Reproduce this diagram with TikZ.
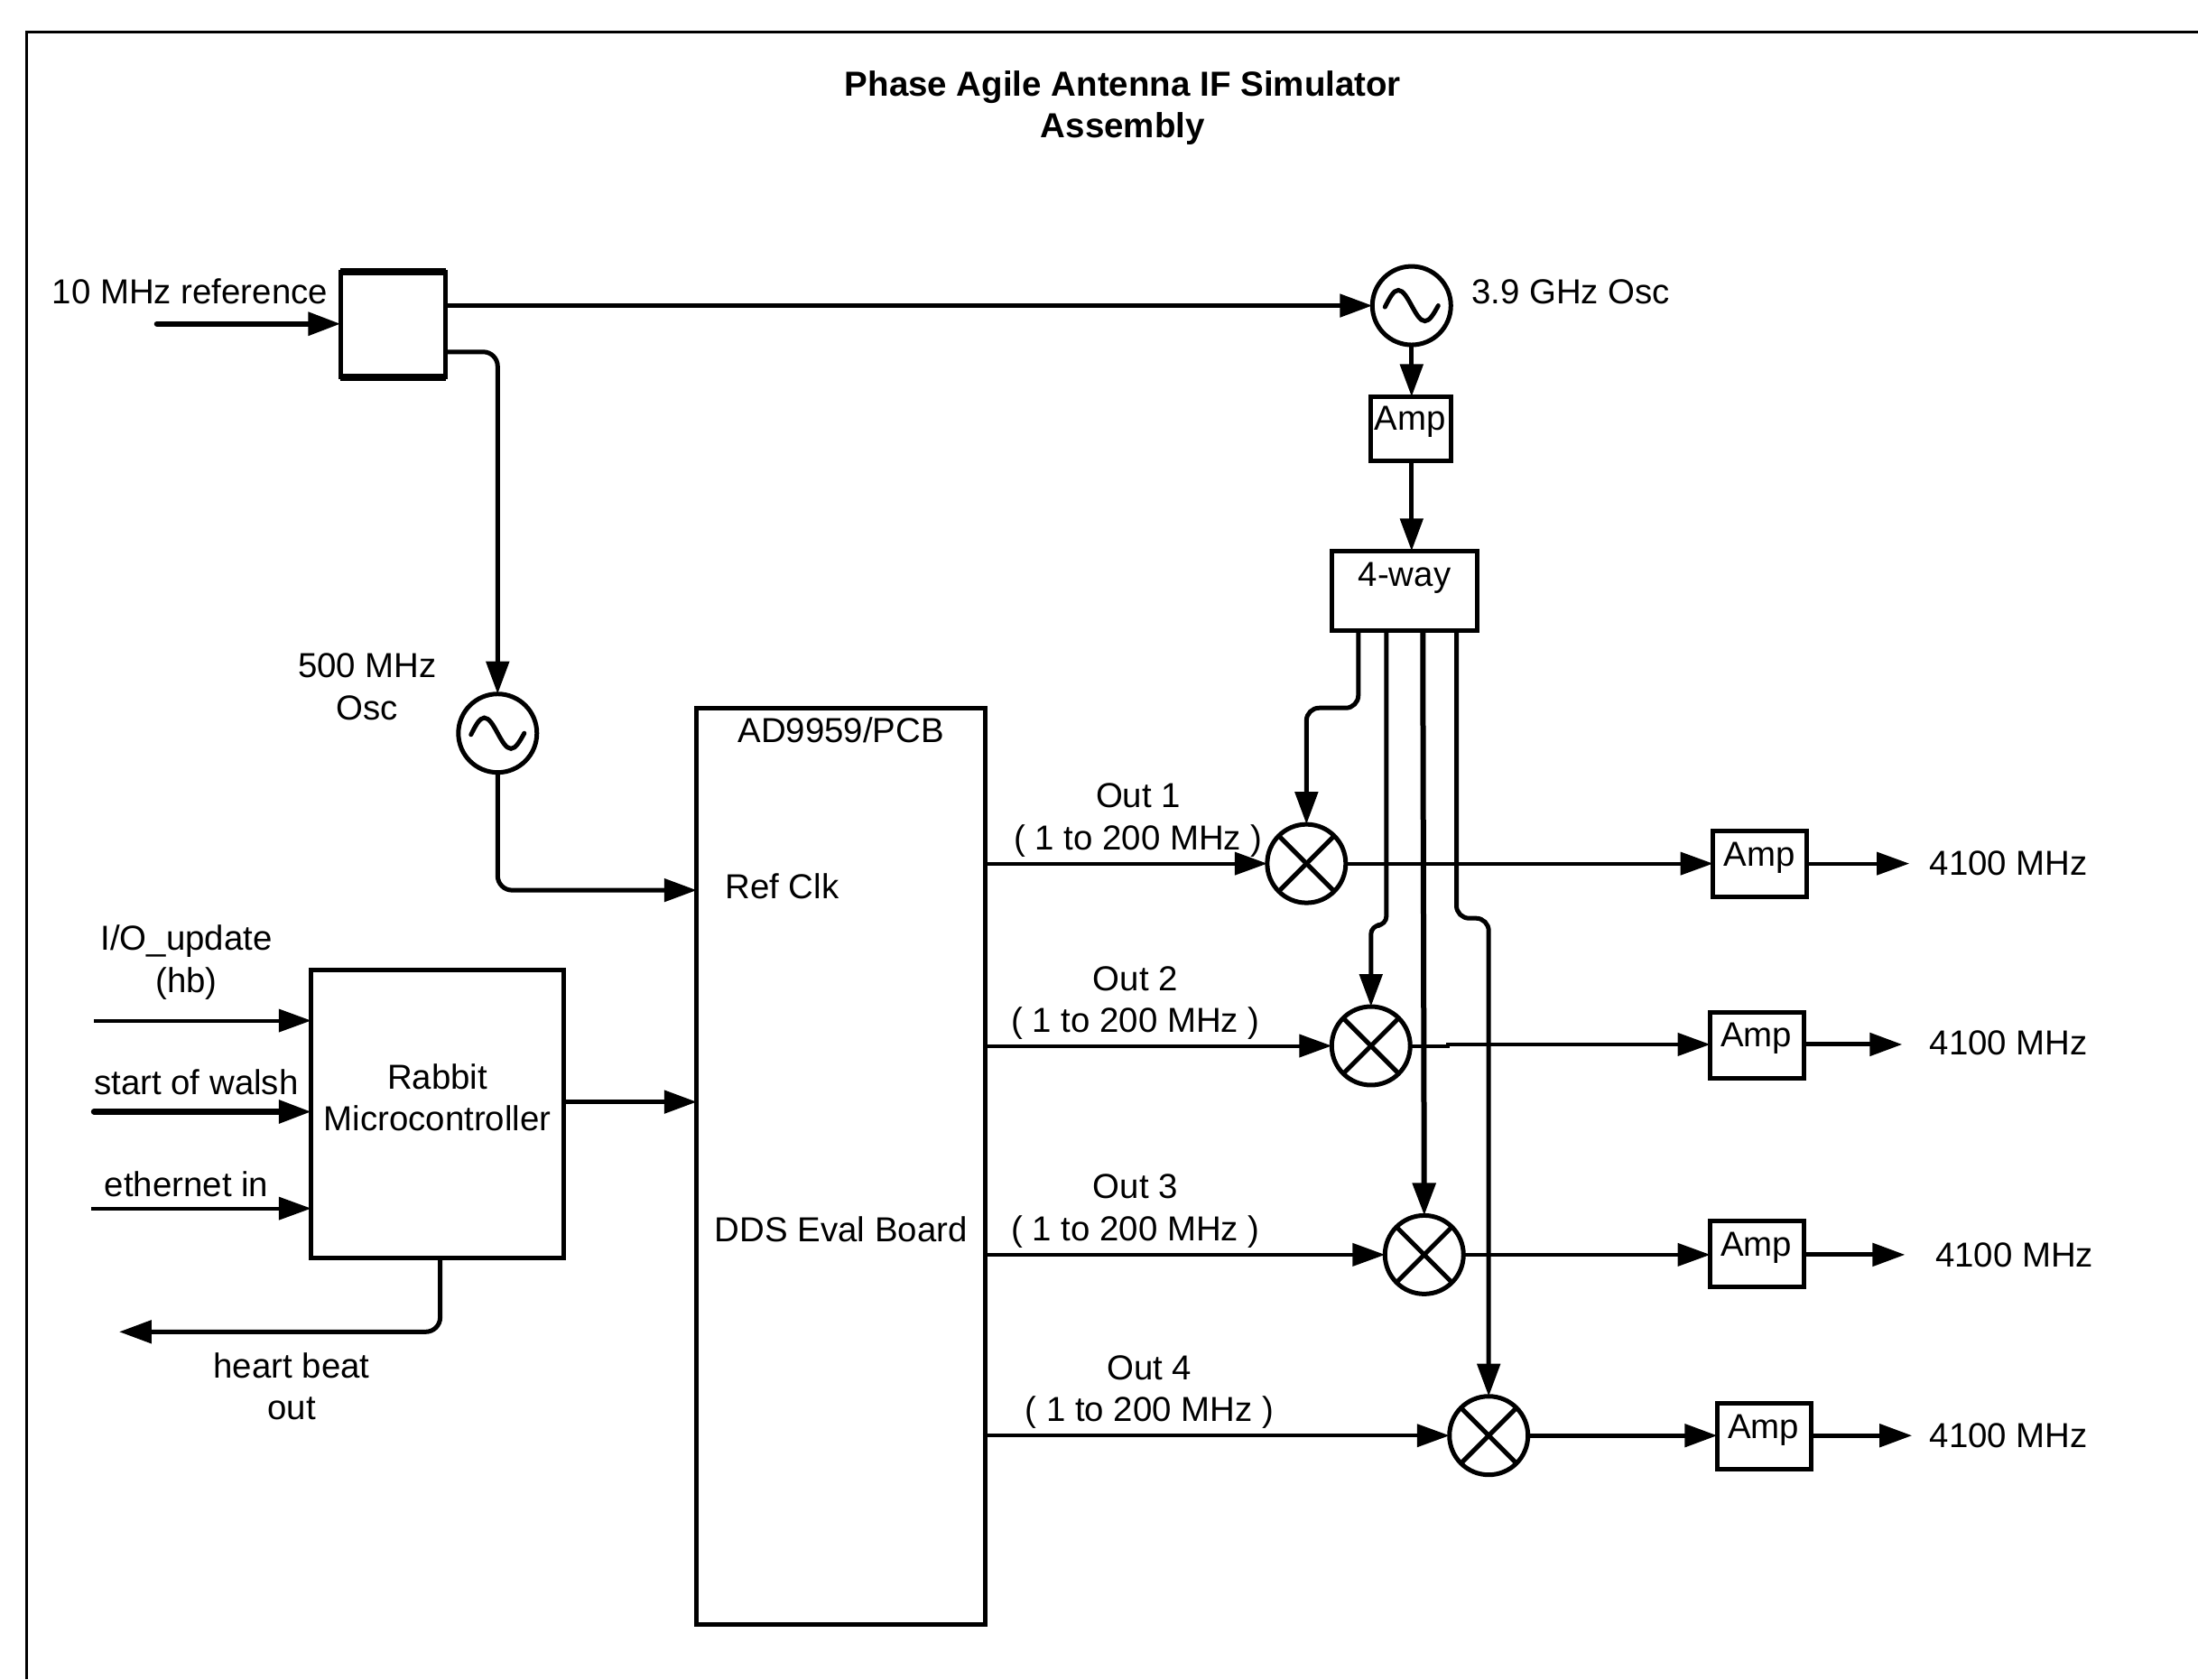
\documentclass[tikz,border=0pt]{standalone}
\usepackage{fontspec}
\setmainfont{Liberation Sans}
\usetikzlibrary{arrows.meta,calc}
\def\U{0.7765pt}
\tikzset{
  x=0.7765pt,y=-0.7765pt,
  lw/.style={line width=2.5pt},
  sz/.style 2 args={minimum width=#1*\U,minimum height=#2*\U},
  blk/.style={draw,rectangle,lw,inner sep=0pt,outer sep=0pt,line join=miter},
  osc/.style={draw,circle,lw,inner sep=0pt,outer sep=0pt,minimum size=56*\U},
  mixer/.style={osc,path picture={
    \draw[lw] (path picture bounding box.north west)--(path picture bounding box.south east);
    \draw[lw] (path picture bounding box.north east)--(path picture bounding box.south west);}},
  txt/.style={inner sep=0pt,outer sep=0pt,align=center,font=\fontsize{19.2}{23.2}\selectfont},
  conn/.style={lw,-{Triangle[length=18pt,width=12.5pt]}},
  connthin/.style={line width=2pt,-{Triangle[length=18pt,width=12.5pt]}},
  connthick/.style={line width=3.2pt,line cap=round,-{Triangle[length=18pt,width=12.5pt]}},
  roundbend/.style={rounded corners=8pt},
}
\newcommand{\sinewave}[1]{\draw[lw,line cap=round] (#1) ++(-19,1) sin ++(9.5,-12) cos ++(9.5,11) sin ++(9.5,11) cos ++(9.5,-11);}
\begin{document}
\begin{tikzpicture}
\useasboundingbox (0,0) rectangle (1568,1198);
% frame
\draw[line width=1.5pt] (19,1198) -- (19,23) -- (1568,23);
% title
\node[txt,font=\fontsize{19.25}{23.2}\selectfont\bfseries] (title) at (801,77) {Phase Agile Antenna IF Simulator\\Assembly};
% blocks
\node[blk,sz={75}{75}] (ref) at (280.5,231.5) {};
\draw[line width=4.2pt] (ref.north west) -- (ref.north east) (ref.south west) -- (ref.south east);
\node[osc] (oscA) at (1007,218) {};
\node[osc] (oscB) at (355,523) {};
\sinewave{oscA}
\sinewave{oscB}
\node[blk,sz={57}{46}] (ampZ) at (1006.5,306) {};
\node[blk,sz={104}{57}] (four) at (1002,421.5) {};
\node[blk,sz={206}{654}] (dds) at (600,832) {};
\node[blk,sz={180}{205}] (rabbit) at (312,794.5) {};
\node[mixer] (mixA) at (932,616) {};
\node[mixer] (mixB) at (978,746) {};
\node[mixer] (mixC) at (1016,895) {};
\node[mixer] (mixD) at (1062,1024) {};
\node[blk,sz={67}{47}] (ampA) at (1255.5,616.5) {};
\node[blk,sz={67}{47}] (ampB) at (1253.5,745.5) {};
\node[blk,sz={67}{47}] (ampC) at (1253.5,894.5) {};
\node[blk,sz={67}{47}] (ampD) at (1258.5,1024.5) {};
% labels
\node[txt] (tRef) at (135.5,208) {10 MHz reference};
\node[txt] (tGHz) at (1120.5,208) {3.9 GHz Osc};
\node[txt] (tAmpZ) at (1006,301) {Amp};
\node[txt] (tFour) at (1002,412) {4-way};
\node[txt] (tOscB) at (262,490) {500 MHz\\Osc};
\node[txt] (tAD) at (600,521) {AD9959/PCB};
\node[txt] (tClk) at (558,632) {Ref Clk};
\node[txt] (tEval) at (600,877) {DDS Eval Board};
\node[txt] (tOutA) at (812,585) {Out 1\\( 1 to 200 MHz )};
\node[txt] (tOutB) at (810,715.5) {Out 2\\( 1 to 200 MHz )};
\node[txt] (tOutC) at (810,864) {Out 3\\( 1 to 200 MHz )};
\node[txt] (tOutD) at (820,993) {Out 4\\( 1 to 200 MHz )};
\node[txt] (tAmpA) at (1255,612) {Amp};
\node[txt] (tAmpB) at (1253,741) {Amp};
\node[txt] (tAmpC) at (1253,890) {Amp};
\node[txt] (tAmpD) at (1258,1020) {Amp};
\node[txt] (tFA) at (1433,616) {4100 MHz};
\node[txt] (tFB) at (1433,744) {4100 MHz};
\node[txt] (tFC) at (1437,895) {4100 MHz};
\node[txt] (tFD) at (1433,1024) {4100 MHz};
\node[txt] (tIO) at (133,686.5) {I/O\_update\\(hb)};
\node[txt] (tWalsh) at (140,772) {start of walsh};
\node[txt] (tEth) at (133,845) {ethernet in};
\node[txt] (tRabbit) at (312,783) {Rabbit\\Microcontroller};
\node[txt] (tHeart) at (208,989) {heart beat\\out};
% free ends and taps
\coordinate (inRef) at (112,231);
\coordinate (tapRef) at (318,251);
\coordinate (inA) at (67,728);
\coordinate (inB) at (67,793);
\coordinate (inC) at (65,862);
\coordinate (outHeart) at (85,950);
\coordinate (tapHeart) at (314,897);
\coordinate (fA) at (969,450);
\coordinate (fB) at (989,450);
\coordinate (fC) at (1015,450);
\coordinate (fD) at (1039,450);
\coordinate (endA) at (1362,616);
\coordinate (endB) at (1357,745);
\coordinate (endC) at (1359,895);
\coordinate (endD) at (1364,1024);
\coordinate (ddsClk) at (497,635);
\coordinate (ddsRab) at (497,786);
\coordinate (ddsA) at (703,616);
\coordinate (ddsB) at (703,746);
\coordinate (ddsC) at (703,895);
\coordinate (ddsD) at (701,1024);
% connectors
\draw[connthick] (inRef) -- (ref.west |- inRef);
\draw[conn] (ref.east |- oscA.west) -- (oscA.west);
\draw[conn,roundbend] (tapRef) -| (oscB.north);
\draw[conn] (oscA.south) -- (oscA.south |- ampZ.north);
\draw[conn] (oscA.south |- ampZ.south) -- (oscA.south |- four.north);
\draw[conn,roundbend] (oscB.south) |- (ddsClk);
\draw[conn] (rabbit.east |- ddsRab) -- (ddsRab);
\draw[connthin] (inA) -- (rabbit.west |- inA);
\draw[connthick] (inB) -- (rabbit.west |- inB);
\draw[connthin] (inC) -- (rabbit.west |- inC);
\draw[conn,roundbend] (tapHeart) |- (outHeart);
\draw[connthin] (ddsA) -- (mixA.west);
\draw[connthin] (ddsB) -- (mixB.west);
\draw[connthin] (ddsC) -- (mixC.west);
\draw[connthin] (ddsD) -- (mixD.west);
\draw[connthin] (mixA.east) -- (ampA.west |- mixA.east);
\draw[connthin] (mixB.east) -- (1033,746) -- (1033,745) -- (ampB.west |- endB);
\draw[connthin] (mixC.east) -- (ampC.west |- mixC.east);
\draw[conn] (mixD.east) -- (ampD.west |- mixD.east);
\draw[connthin] (ampA.east |- endA) -- (endA);
\draw[conn] (ampB.east |- endB) -- (endB);
\draw[conn] (ampC.east |- endC) -- (endC);
\draw[conn] (ampD.east |- endD) -- (endD);
\draw[conn,rounded corners=7pt] (fA) |- (950,505) -- (932,505) -- (mixA.north);
\draw[conn,rounded corners=5pt] (fB) -- (989,660) -- (978,660) -- (mixB.north);
\draw[conn,line width=3pt] (fC) -- (mixC.north);
\draw[conn,rounded corners=7pt] (fD) -- (1039,655) -- (1062,655) -- (mixD.north);
\end{tikzpicture}
\end{document}
